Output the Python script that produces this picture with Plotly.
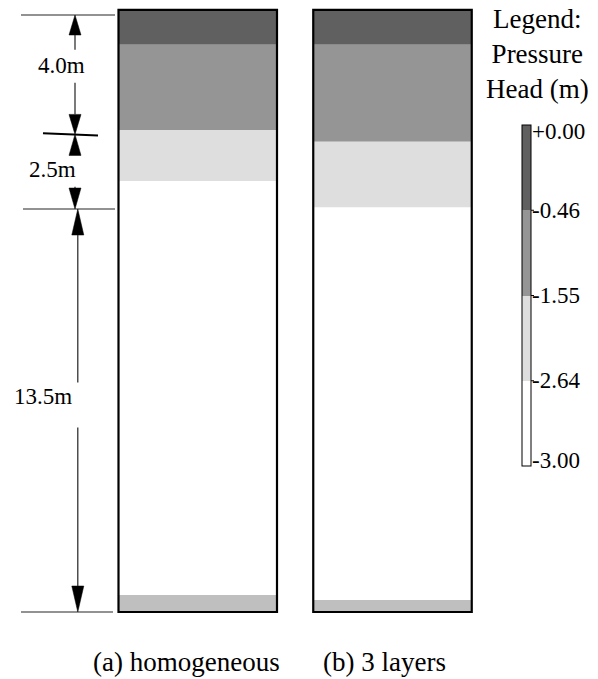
import plotly.graph_objects as go

# ---- data -------------------------------------------------------------
columns = ["(a) homogeneous", "(b) 3 layers"]
surface_depth = -0.17                       # top of the soil column (m)
# bottom depth (m) of each pressure-head band, top to bottom
homogeneous_bottoms = [1.00, 3.85, 5.56, 19.43, 20.00]
layered_bottoms = [1.00, 4.25, 6.45, 19.60, 20.00]
band_colors = ["#606060", "#959595", "#dedede", "#ffffff", "#bfbfbf"]

legend_ticks = ["+0.00", "-0.46", "-1.55", "-2.64", "-3.00"]
legend_colors = ["#606060", "#959595", "#dedede", "#ffffff"]   # top to bottom

dim_thickness = [4.0, 2.5, 13.5]            # dimensioned soil layers (m)

# ---- layout helpers ------------------------------------------------------
W, H = 598, 679
FONT = "Liberation Serif"
Y0_PX = 15.0            # page row of depth 0
PX_PER_M = 29.85        # vertical scale


def px_to_depth(py):
    return (py - Y0_PX) / PX_PER_M


def px_len(p):
    return p / PX_PER_M


col_x = [197.75, 392.5]
col_w = 158.5

fig = go.Figure()

# soil column bands as stacked bars with explicit bases
tops_a = [surface_depth] + homogeneous_bottoms[:-1]
tops_b = [surface_depth] + layered_bottoms[:-1]
for i, color in enumerate(band_colors):
    fig.add_trace(go.Bar(
        x=col_x,
        base=[tops_a[i], tops_b[i]],
        y=[homogeneous_bottoms[i] - tops_a[i], layered_bottoms[i] - tops_b[i]],
        width=col_w,
        marker=dict(color=color, line=dict(width=0)),
        showlegend=False,
        hoverinfo="skip",
    ))

shapes = []
# column outlines
for cx, bottoms in zip(col_x, [homogeneous_bottoms, layered_bottoms]):
    shapes.append(dict(type="rect", xref="x", yref="y",
                       x0=cx - col_w / 2, x1=cx + col_w / 2,
                       y0=surface_depth, y1=bottoms[-1],
                       line=dict(color="black", width=2.2),
                       fillcolor="rgba(0,0,0,0)", layer="above"))

# ---- dimension annotation ------------------------------------------------
cum = [0.0]
for t in dim_thickness:
    cum.append(cum[-1] + t)

dim_line_x = [75.0, 75.0, 77.8]
arrow_len_px = [20, 21, 26]
label_x = [61.5, 52.5, 43.0]
label_dy_px = [-9.0, -2.0, -14.0]
label_gap_px = [(16, 17), (16, 17), (14, 31)]
ext_lines = {0: (21, 115), 2: (23, 115), 3: (21, 113)}   # boundary index -> x extent

for k, (x0, x1) in ext_lines.items():
    shapes.append(dict(type="line", xref="x", yref="y", x0=x0, x1=x1,
                       y0=cum[k], y1=cum[k],
                       line=dict(color="#6e6e6e", width=1.6)))
# slanted tick at the 4.0 m boundary
shapes.append(dict(type="line", xref="x", yref="y", x0=43, x1=98,
                   y0=cum[1] - px_len(1.2), y1=cum[1] + px_len(1.2),
                   line=dict(color="black", width=2)))

annotations = []
for i, t in enumerate(dim_thickness):
    xl = dim_line_x[i]
    top, bot = cum[i], cum[i + 1]
    alen = px_len(arrow_len_px[i])
    hw = 6.0
    # arrowheads
    shapes.append(dict(type="path", xref="x", yref="y",
                       path=f"M {xl},{top} L {xl - hw},{top + alen} L {xl + hw},{top + alen} Z",
                       fillcolor="black", line=dict(color="black", width=0.5)))
    shapes.append(dict(type="path", xref="x", yref="y",
                       path=f"M {xl},{bot} L {xl - hw},{bot - alen} L {xl + hw},{bot - alen} Z",
                       fillcolor="black", line=dict(color="black", width=0.5)))
    mid = (top + bot) / 2 + px_len(label_dy_px[i])
    g_up, g_dn = label_gap_px[i]
    seg_a = (top + alen, mid - px_len(g_up))
    seg_b = (mid + px_len(g_dn), bot - alen)
    for s0, s1 in (seg_a, seg_b):
        if s1 > s0:
            shapes.append(dict(type="line", xref="x", yref="y", x0=xl, x1=xl,
                               y0=s0, y1=s1, line=dict(color="#222222", width=1.2)))
    annotations.append(dict(x=label_x[i], y=mid, xref="x", yref="y",
                            text=f"{t:.1f}m", showarrow=False,
                            xanchor="center", yanchor="middle",
                            font=dict(family=FONT, size=23, color="black")))

# captions under the columns
caption_x = [186.5, 384.5]
for cx, txt in zip(caption_x, columns):
    annotations.append(dict(x=cx, y=px_to_depth(662), xref="x", yref="y",
                            text=txt, showarrow=False,
                            xanchor="center", yanchor="middle",
                            font=dict(family=FONT, size=27, color="black")))

# legend heading
annotations.append(dict(x=537, y=1 - 2 / H, xref="x", yref="paper",
                        text="Legend:<br>Pressure<br>Head (m)", showarrow=False,
                        xanchor="center", yanchor="top", align="center",
                        font=dict(family=FONT, size=27, color="black")))

# ---- pressure-head legend as a stepped colour bar ---------------------------
n = len(legend_colors)
scale = []
for j, c in enumerate(reversed(legend_colors)):
    scale.append([j / n, c])
    scale.append([(j + 1) / n, c])

bar_top, bar_bot = 125.0, 466.0
bar_x0, bar_x1 = 522.0, 531.0

fig.add_trace(go.Scatter(
    x=[None], y=[None], mode="markers", showlegend=False, hoverinfo="skip",
    marker=dict(
        color=[0], cmin=0, cmax=n, colorscale=scale, showscale=True,
        colorbar=dict(
            x=bar_x0 / W, xanchor="left", y=1 - (bar_top + bar_bot) / 2 / H, yanchor="middle",
            len=bar_bot - bar_top, lenmode="pixels",
            thickness=bar_x1 - bar_x0, thicknessmode="pixels",
            outlinewidth=1, outlinecolor="black", borderwidth=0,
            xpad=0, ypad=0, ticks="", showticklabels=False,
        ),
    ),
))

# class-boundary ticks and labels next to the bar
step = (bar_bot - bar_top) / n
for j, lab in enumerate(legend_ticks):
    yb = bar_top + j * step
    if 0 < j < n:
        shapes.append(dict(type="line", xref="paper", yref="paper",
                           x0=bar_x0 / W, x1=(bar_x1 + 3) / W,
                           y0=1 - yb / H, y1=1 - yb / H,
                           line=dict(color="black", width=1)))
    inset = 6 if j == 0 else (-6 if j == n else 0)
    annotations.append(dict(x=bar_x1 - 1, y=1 - (yb + inset) / H, xref="x", yref="paper",
                            text=lab, showarrow=False,
                            xanchor="left", yanchor="middle",
                            font=dict(family=FONT, size=23, color="black")))

fig.update_layout(
    width=W, height=H, autosize=False,
    margin=dict(l=0, r=0, t=0, b=0, autoexpand=False),
    paper_bgcolor="white", plot_bgcolor="white",
    barmode="overlay",
    xaxis=dict(range=[0, W], visible=False, fixedrange=True),
    yaxis=dict(range=[px_to_depth(H), px_to_depth(0)], visible=False, fixedrange=True),
    shapes=shapes, annotations=annotations,
    showlegend=False,
)

fig.write_html("out.html")
